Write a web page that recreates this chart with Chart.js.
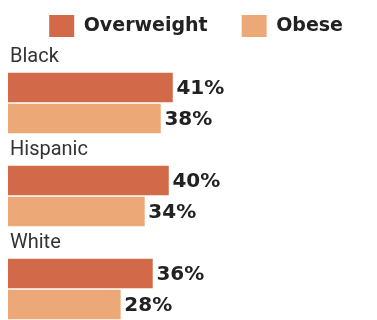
<!DOCTYPE html>
<html>
<head>
<meta charset="utf-8">
<script src="https://cdn.jsdelivr.net/npm/chart.js@4/dist/chart.umd.min.js"></script>
<style>
  html, body { margin: 0; padding: 0; background: #ffffff; }
  #wrap { width: 377px; height: 320px; position: relative; }
</style>
</head>
<body>
<div id="wrap"><canvas id="c"></canvas></div>
<script>
// Data
const groups = ["Black", "Hispanic", "White"];
const seriesNames = ["Overweight", "Obese"];
const overweight = [41, 40, 36];
const obese = [38, 34, 28];

// Each group occupies three rows (label, overweight, obese); rows are listed
// bottom-to-top and the y axis is reversed so the first group is drawn on top.
const rowLabels = [];
const owRows = [];
const obRows = [];
for (let i = groups.length - 1; i >= 0; i--) {
  rowLabels.push("", "", groups[i]);
  owRows.push(null, overweight[i], null);
  obRows.push(obese[i], null, null);
}

const valueLabels = {
  id: 'valueLabels',
  afterDatasetsDraw(chart) {
    const ctx = chart.ctx;
    ctx.save();
    ctx.font = 'bold 20px "DejaVu Sans"';
    ctx.fillStyle = '#222222';
    ctx.textAlign = 'left';
    ctx.textBaseline = 'middle';
    chart.data.datasets.forEach((ds, di) => {
      const meta = chart.getDatasetMeta(di);
      meta.data.forEach((el, i) => {
        const v = ds.data[i];
        if (v === null || v === undefined) return;
        ctx.fillText(v + '%', el.x + 4, el.y + 1);
      });
    });
    ctx.restore();
  }
};

new Chart(document.getElementById('c'), {
  type: 'bar',
  data: {
    labels: rowLabels,
    datasets: [
      { label: seriesNames[0], data: owRows, backgroundColor: '#d26949', barThickness: 29, skipNull: true },
      { label: seriesNames[1], data: obRows, backgroundColor: '#eca877', barThickness: 29, skipNull: true }
    ]
  },
  options: {
    indexAxis: 'y',
    responsive: true,
    maintainAspectRatio: false,
    animation: false,
    layout: { padding: { top: -19, left: 4, right: 0, bottom: 0 } },
    plugins: {
      legend: {
        position: 'top',
        align: 'end',
        maxHeight: 60,
        labels: {
          boxWidth: 25,
          boxHeight: 22,
          padding: 34,
          color: '#222222',
          font: { family: '"DejaVu Sans"', size: 19, weight: 'bold' }
        }
      },
      tooltip: { enabled: false }
    },
    scales: {
      x: { display: false, min: 0, max: 92 },
      y: {
        reverse: true,
        grid: { display: false, drawTicks: false },
        border: { display: false },
        afterFit: (scale) => { scale.paddingTop = 0; scale.paddingBottom = 0; },
        ticks: {
          mirror: true,
          padding: 2,
          color: '#333333',
          font: { family: 'Roboto', size: 20 },
          callback: (v) => rowLabels[v] || null
        }
      }
    }
  },
  plugins: [valueLabels]
});
</script>
</body>
</html>
